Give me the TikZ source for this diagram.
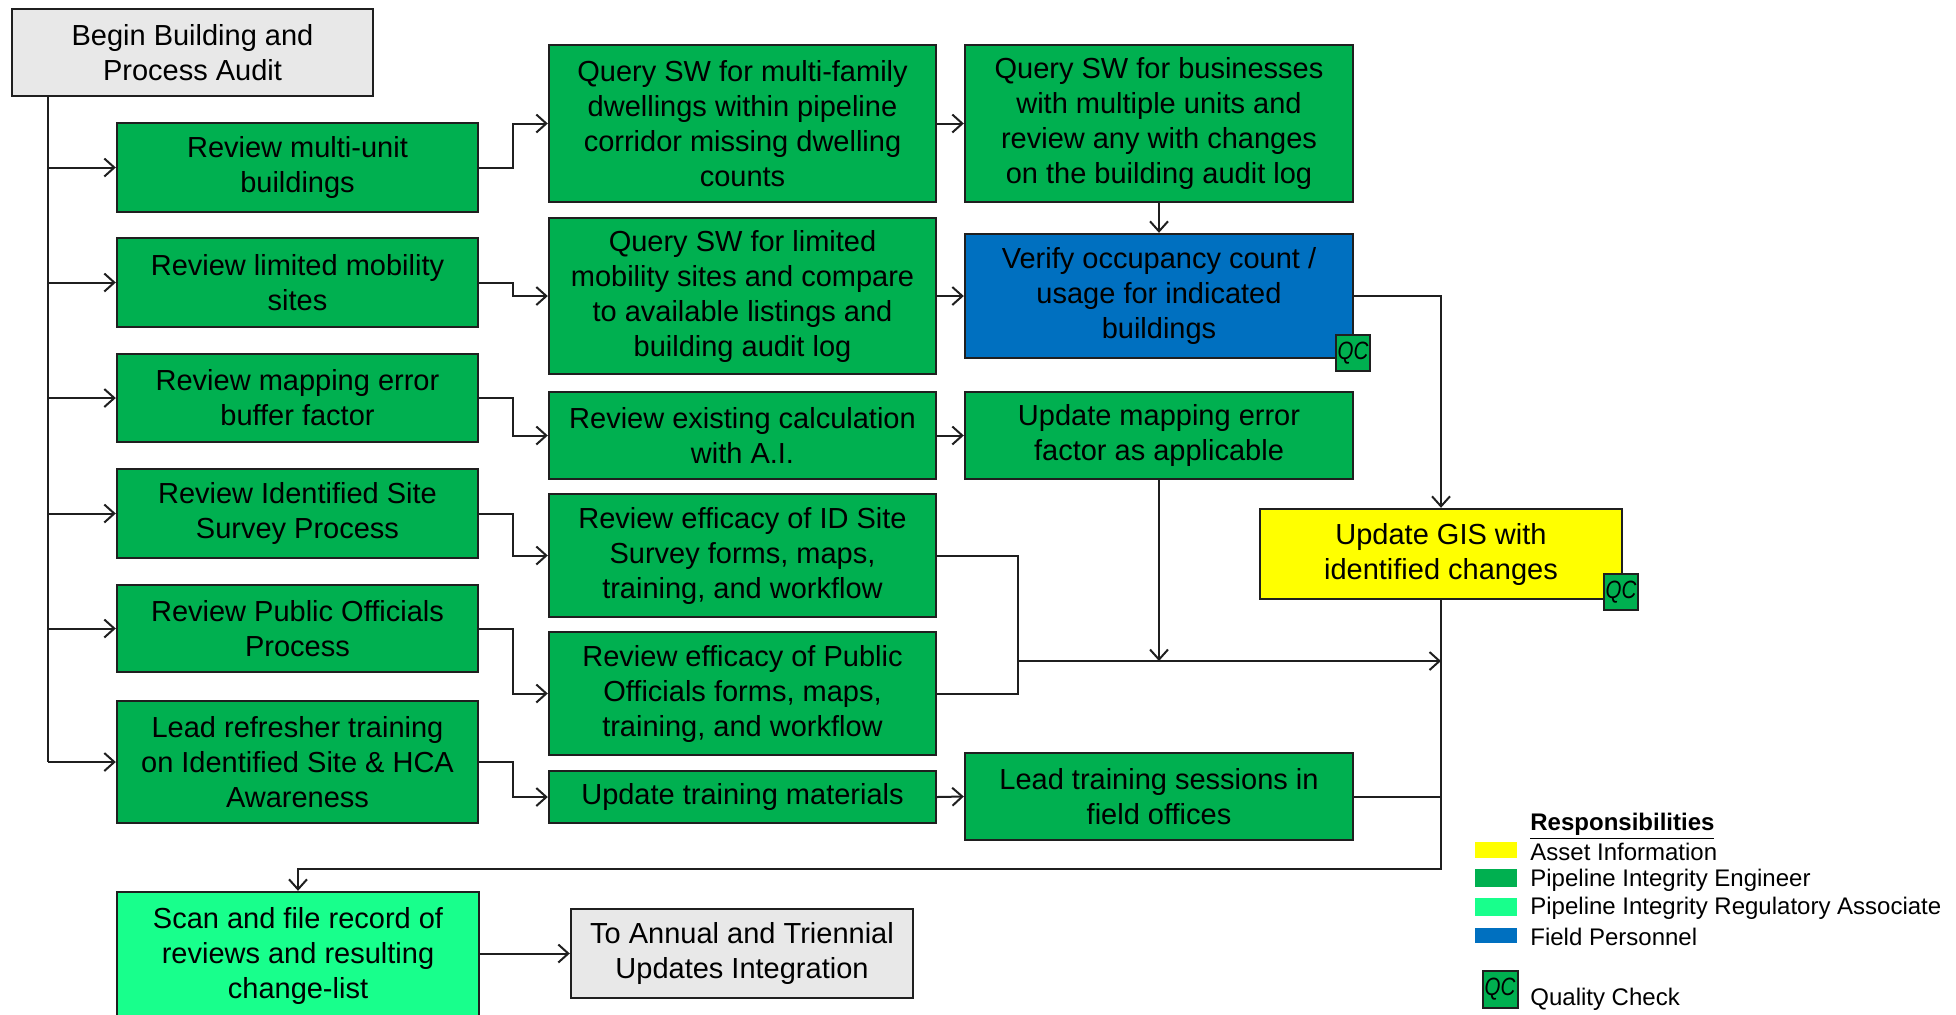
\documentclass[tikz,border=0pt]{standalone}
\usepackage{fontspec}
\setmainfont{Liberation Sans}
\newfontfamily\qcfont[FakeStretch=0.82]{Liberation Sans}
\usetikzlibrary{arrows.meta,calc}
\definecolor{pie}{RGB}{0,176,80}
\definecolor{fieldblue}{RGB}{0,112,192}
\definecolor{assetyellow}{RGB}{255,255,0}
\definecolor{piraGreen}{RGB}{24,255,140}
\definecolor{startgray}{RGB}{232,232,232}
% box from its corner coordinates: [style]{name}{x1}{y1}{x2}{y2}{text}
\newcommand\flowbox[7][]{%
  \pgfmathsetmacro\fbw{(#5-#3)*0.5}%
  \pgfmathsetmacro\fbh{(#6-#4)*0.5}%
  \node[#1, minimum width=\fbw pt, minimum height=\fbh pt] (#2)
    at ({(#3+#5)/2},{(#4+#6)/2}) {#7};}
\begin{document}
\begin{tikzpicture}[x=0.5pt,y=-0.5pt,
  box/.style={draw=black!88, line width=1.2pt, inner sep=0pt, align=center,
    font=\fontsize{14.5}{17.5}\selectfont},
  eng/.style={box, fill=pie},
  qc/.style={draw=black!88, line width=1pt, fill=pie, inner sep=0pt,
    minimum width=17pt, minimum height=18pt,
    font=\qcfont\itshape\fontsize{12.5}{12.5}\selectfont},
  link/.style={line width=1pt, draw=black!88},
  arr/.style={link, -{Straight Barb[length=5pt,width=9pt]}},
  legtext/.style={anchor=west, inner sep=0pt, font=\fontsize{12}{13}\selectfont}]
\useasboundingbox (0,0) rectangle (1956,1014);
\clip (0,0) rectangle (1956,1014);

% helper coordinates for the connector bends
\coordinate (trunk) at (48,0);
\coordinate (elb) at (513,0);
\coordinate (mx) at (1018,0);
\coordinate (my) at (0,661);
\coordinate (loopy) at (0,869);

% start box
\flowbox[box, fill=startgray]{begin}{12}{9}{373}{96}{Begin Building and\\Process Audit}

% first column
\flowbox[eng]{r1}{117}{123}{478}{212}{Review multi-unit\\buildings}
\flowbox[eng]{r2}{117}{238}{478}{327}{Review limited mobility\\sites}
\flowbox[eng]{r3}{117}{354}{478}{442}{Review mapping error\\buffer factor}
\flowbox[eng]{r4}{117}{469}{478}{558}{Review Identified Site\\Survey Process}
\flowbox[eng]{r5}{117}{585}{478}{672}{Review Public Officials\\Process}
\flowbox[eng]{r6}{117}{701}{478}{823}{Lead refresher training\\on Identified Site \& HCA\\Awareness}

% second column
\flowbox[eng]{q1}{549}{45}{936}{202}{Query SW for multi-family\\dwellings within pipeline\\corridor missing dwelling\\counts}
\flowbox[eng]{q2}{549}{218}{936}{374}{Query SW for limited\\mobility sites and compare\\to available listings and\\building audit log}
\flowbox[eng]{ex}{549}{392}{936}{479}{Review existing calculation\\with A.I.}
\flowbox[eng]{ids}{549}{494}{936}{617}{Review efficacy of ID Site\\Survey forms, maps,\\training, and workflow}
\flowbox[eng]{pub}{549}{632}{936}{755}{Review efficacy of Public\\Officials forms, maps,\\training, and workflow}
\flowbox[eng]{ut}{549}{771}{936}{823}{Update training materials}

% third column
\flowbox[eng]{bus}{965}{45}{1353}{202}{Query SW for businesses\\with multiple units and\\review any with changes\\on the building audit log}
\flowbox[box, fill=fieldblue]{ver}{965}{234}{1353}{358}{Verify occupancy count /\\usage for indicated\\buildings}
\flowbox[eng]{um}{965}{392}{1353}{479}{Update mapping error\\factor as applicable}
\flowbox[eng]{lt}{965}{753}{1353}{840}{Lead training sessions in\\field offices}

% GIS update
\flowbox[box, fill=assetyellow]{yel}{1260}{509}{1622}{599}{Update GIS with\\identified changes}

% closing steps
\flowbox[box, fill=piraGreen]{scan}{117}{892}{479}{1020}{Scan and file record of\\reviews and resulting\\change-list}
\flowbox[box, fill=startgray]{ann}{571}{909}{913}{998}{To Annual and Triennial\\Updates Integration}

% quality check badges
\node[qc] (qcver) at (1353,353) {QC};
\node[qc] (qcyel) at (1621,592) {QC};

% trunk from the start box
\draw[link] (begin.south -| trunk) -- (r6.west -| trunk);
\foreach \n in {r1,r2,r3,r4,r5,r6}
  \draw[arr] (\n.west -| trunk) -- (\n.west);

% first to second column
\draw[arr] (r1.east) -- (r1.east -| elb) |- (q1.west);
\draw[arr] (r2.east) -- (r2.east -| elb) |- (q2.west);
\draw[arr] (r3.east) -- (r3.east -| elb) |- (ex.west);
\draw[arr] (r4.east) -- (r4.east -| elb) |- (ids.west);
\draw[arr] (r5.east) -- (r5.east -| elb) |- (pub.west);
\draw[arr] (r6.east) -- (r6.east -| elb) |- (ut.west);

% second to third column
\draw[arr] (q1.east) -- (bus.west);
\draw[arr] (q2.east) -- (ver.west);
\draw[arr] (ex.east) -- (um.west);
\draw[arr] (ut.east) -- (lt.west);
\draw[arr] (bus.south) -- (ver.north);

% into the GIS update
\draw[arr] (ver.east) -| (yel.north);
\draw[link] (ids.east) -| (pub.east -| mx) -- (pub.east);
\draw[arr] (my -| mx) -- (my -| yel.south);
\draw[arr] (um.south) -- (um.south |- my);
\draw[link] (lt.east) -- (lt.east -| yel.south);

% loop back to the record step
\draw[arr] (yel.south) -- (yel.south |- loopy) -| (scan.north);
\draw[arr] (scan.east |- ann.west) -- (ann.west);

% legend
\node[legtext] (legtitle) at (1530,826) {\underline{\textbf{Responsibilities}}};
\fill[assetyellow] (1475,842) rectangle (1517,858);
\fill[pie] (1475,869) rectangle (1517,887);
\fill[piraGreen] (1475,898) rectangle (1517,916);
\fill[fieldblue] (1475,928) rectangle (1517,943);
\node[legtext] (lg1) at (1530,852) {Asset Information};
\node[legtext] (lg2) at (1530,880) {Pipeline Integrity Engineer};
\node[legtext] (lg3) at (1530,908) {Pipeline Integrity Regulatory Associate};
\node[legtext] (lg4) at (1530,937) {Field Personnel};
\node[qc, minimum width=17.5pt, minimum height=18.5pt] (qcleg) at (1500,989) {QC};
\node[legtext] (lg5) at (1530,999) {Quality Check};
\end{tikzpicture}
\end{document}
